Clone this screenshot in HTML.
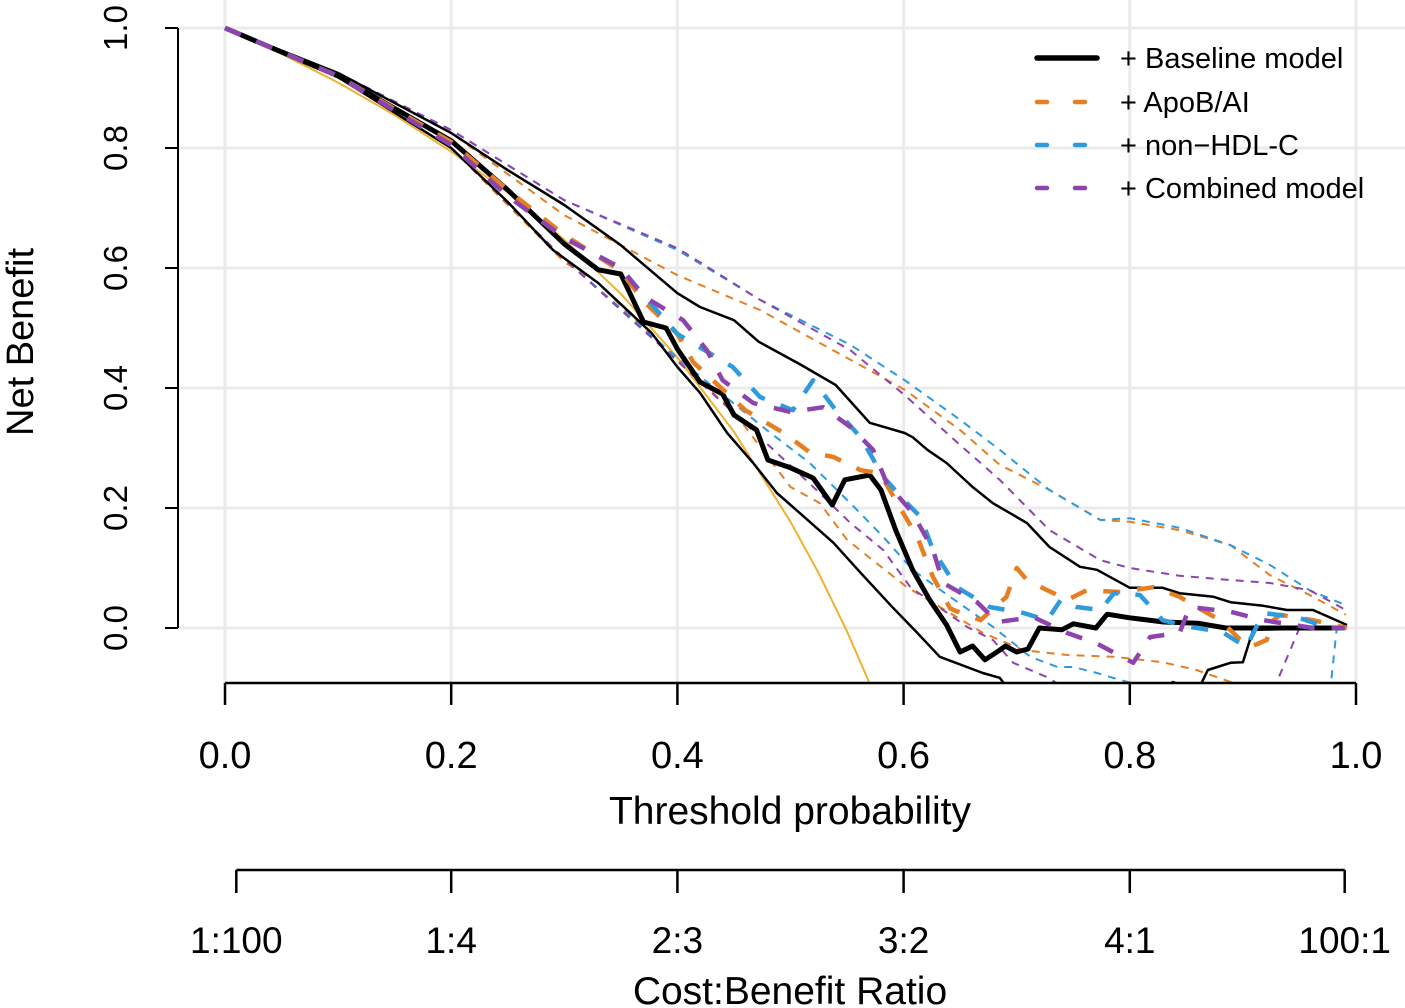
<!DOCTYPE html>
<html><head><meta charset="utf-8"><style>
body{margin:0;background:#fff;}
svg{display:block;font-family:"Liberation Sans",Arial,sans-serif;}
</style></head><body>
<svg id="chart" width="1405" height="1008" viewBox="0 0 1405 1008" xmlns="http://www.w3.org/2000/svg">
<defs><clipPath id="plotclip"><rect x="178" y="0" width="1227" height="683"/></clipPath></defs>
<g id="grid"></g>
<g id="series" clip-path="url(#plotclip)"></g>
<g id="axes"></g>
<g id="legend"></g>
</svg>
<script>
const xTicks=[0,0.2,0.4,0.6,0.8,1.0];
const xTickLabels=["0.0","0.2","0.4","0.6","0.8","1.0"];
const yTicks=[0,0.2,0.4,0.6,0.8,1.0];
const yTickLabels=["0.0","0.2","0.4","0.6","0.8","1.0"];
const cbTicks=[0.01,0.2,0.4,0.6,0.8,0.99];
const cbLabels=["1:100","1:4","2:3","3:2","4:1","100:1"];

const treatAllT=[0,0.05,0.1,0.15,0.2,0.25,0.3,0.35,0.4,0.45,0.5,0.525,0.55,0.575,0.6];
const treatAllV=[1,0.957,0.909,0.855,0.794,0.726,0.647,0.557,0.451,0.327,0.177,0.091,-0.006,-0.114,-0.235];

const baseT=[0,0.1,0.2,0.25,0.3,0.33,0.35,0.37,0.39,0.4,0.42,0.44,0.45,0.47,0.48,0.5,0.52,0.537,0.548,0.57,0.58,0.593,0.608,0.623,0.638,0.65,0.661,0.672,0.685,0.69,0.7,0.71,0.72,0.74,0.75,0.77,0.78,0.8,0.83,0.86,0.885,0.99];
const baseV=[1,0.92,0.812,0.73,0.64,0.597,0.59,0.51,0.5,0.465,0.41,0.39,0.355,0.33,0.28,0.267,0.25,0.205,0.247,0.255,0.23,0.163,0.097,0.047,0.005,-0.04,-0.03,-0.053,-0.037,-0.03,-0.04,-0.035,0,-0.003,0.007,0,0.023,0.017,0.01,0.008,0,0];
const baseUpT=[0,0.1,0.2,0.25,0.3,0.35,0.4,0.42,0.45,0.472,0.508,0.54,0.57,0.601,0.608,0.621,0.638,0.661,0.679,0.709,0.729,0.756,0.771,0.8,0.829,0.844,0.874,0.889,0.918,0.939,0.962,0.992];
const baseUpV=[1,0.925,0.825,0.763,0.705,0.638,0.558,0.535,0.513,0.477,0.44,0.405,0.342,0.325,0.318,0.297,0.275,0.235,0.208,0.175,0.135,0.102,0.097,0.067,0.067,0.058,0.052,0.043,0.037,0.03,0.03,0.005];
const baseLoT=[0,0.1,0.2,0.25,0.29,0.33,0.377,0.4,0.42,0.444,0.467,0.488,0.508,0.538,0.562,0.591,0.612,0.632,0.67,0.685,0.7,0.8,0.838,0.86,0.869,0.889,0.9,0.909,0.99];
const baseLoV=[1,0.918,0.8,0.71,0.63,0.575,0.492,0.435,0.392,0.325,0.275,0.225,0.192,0.142,0.092,0.033,-0.008,-0.048,-0.075,-0.083,-0.12,-0.15,-0.09,-0.105,-0.07,-0.058,-0.057,-0.003,0];

const apoT=[0,0.1,0.2,0.25,0.3,0.35,0.37,0.4,0.414,0.46,0.494,0.517,0.538,0.562,0.579,0.597,0.612,0.626,0.641,0.644,0.668,0.691,0.7,0.709,0.727,0.745,0.762,0.792,0.821,0.844,0.859,0.88,0.898,0.906,0.921,0.927,0.933,0.962,0.992];
const apoV=[1,0.92,0.81,0.73,0.655,0.595,0.545,0.49,0.443,0.363,0.325,0.293,0.285,0.263,0.258,0.2,0.152,0.085,0.033,0.03,0.013,0.052,0.1,0.08,0.063,0.047,0.063,0.06,0.068,0.052,0.035,0.013,-0.02,-0.032,-0.02,0.013,0.022,0.013,0];
const apoUpT=[0,0.1,0.2,0.3,0.4,0.473,0.553,0.601,0.65,0.685,0.729,0.774,0.8,0.844,0.889,0.924,0.959,0.991];
const apoUpV=[1,0.925,0.825,0.688,0.588,0.53,0.447,0.397,0.33,0.272,0.23,0.18,0.177,0.163,0.138,0.088,0.055,0.022];
const apoLoT=[0,0.1,0.2,0.3,0.33,0.39,0.45,0.5,0.526,0.55,0.576,0.603,0.626,0.67,0.706,0.745,0.786,0.829,0.859,0.889,0.92,0.99];
const apoLoV=[1,0.918,0.8,0.61,0.575,0.463,0.36,0.235,0.208,0.147,0.108,0.068,0.042,-0.008,-0.037,-0.045,-0.048,-0.057,-0.07,-0.09,-0.12,-0.15];

const hdlT=[0,0.1,0.2,0.25,0.3,0.35,0.37,0.4,0.449,0.473,0.502,0.52,0.538,0.562,0.582,0.603,0.615,0.626,0.647,0.676,0.706,0.727,0.739,0.753,0.774,0.786,0.809,0.829,0.853,0.882,0.903,0.918,0.948,0.976,0.99];
const hdlV=[1,0.92,0.805,0.72,0.65,0.6,0.555,0.49,0.435,0.385,0.363,0.413,0.368,0.318,0.252,0.208,0.185,0.13,0.068,0.035,0.025,0.013,0.047,0.035,0.03,0.058,0.055,0.013,0.002,-0.007,-0.032,0.025,0.018,0,0];
const hdlUpT=[0,0.1,0.2,0.3,0.4,0.473,0.553,0.601,0.65,0.685,0.729,0.774,0.8,0.844,0.889,0.924,0.959,0.991];
const hdlUpV=[1,0.925,0.83,0.713,0.63,0.547,0.472,0.413,0.347,0.297,0.23,0.18,0.183,0.167,0.138,0.105,0.063,0.038];
const hdlLoT=[0,0.1,0.2,0.3,0.4,0.479,0.517,0.553,0.582,0.608,0.641,0.679,0.712,0.736,0.75,0.771,0.792,0.82,0.97,0.978,0.983,0.99];
const hdlLoV=[1,0.918,0.8,0.615,0.45,0.33,0.275,0.208,0.152,0.097,0.052,0.002,-0.048,-0.065,-0.065,-0.075,-0.087,-0.1,-0.12,-0.09,0,0];

const combT=[0,0.1,0.2,0.25,0.3,0.35,0.37,0.405,0.426,0.44,0.467,0.5,0.529,0.553,0.573,0.585,0.608,0.626,0.635,0.665,0.683,0.715,0.744,0.77,0.803,0.818,0.844,0.853,0.889,0.918,0.962,0.99];
const combV=[1,0.92,0.805,0.72,0.65,0.6,0.553,0.513,0.463,0.413,0.375,0.36,0.368,0.335,0.297,0.242,0.192,0.13,0.075,0.043,0.01,0.018,-0.008,-0.025,-0.058,-0.015,-0.008,0.035,0.027,0.013,0,0];
const combUpT=[0,0.1,0.2,0.3,0.4,0.473,0.553,0.601,0.65,0.685,0.729,0.774,0.8,0.844,0.889,0.924,0.959,0.991];
const combUpV=[1,0.925,0.83,0.713,0.633,0.547,0.463,0.388,0.305,0.247,0.163,0.113,0.1,0.087,0.08,0.075,0.063,0.03];
const combLoT=[0,0.1,0.2,0.3,0.4,0.485,0.523,0.553,0.582,0.606,0.656,0.679,0.697,0.727,0.76,0.925,0.93,0.95,0.99];
const combLoV=[1,0.918,0.8,0.615,0.445,0.297,0.23,0.175,0.13,0.068,0.002,-0.02,-0.058,-0.082,-0.12,-0.13,-0.09,0,0];

const NS="http://www.w3.org/2000/svg";
const X=t=>225+1131*t;
const Y=v=>628-600*v;
function mk(tag,attrs,parent){const e=document.createElementNS(NS,tag);for(const k in attrs)e.setAttribute(k,attrs[k]);parent.appendChild(e);return e;}
const grid=document.getElementById('grid'),series=document.getElementById('series'),axes=document.getElementById('axes'),legend=document.getElementById('legend');

xTicks.forEach(t=>{const l=mk('line',{x1:X(t),x2:X(t),y1:0,y2:683,stroke:'#ebebeb','stroke-width':3},grid);

});
yTicks.forEach(v=>{const l=mk('line',{x1:178,x2:1405,y1:Y(v),y2:Y(v),stroke:'#ebebeb','stroke-width':3},grid);

});

function line(ts,vs,color,w,dash,name){
  const d=ts.map((t,i)=>(i?'L':'M')+X(t).toFixed(1)+' '+Y(vs[i]).toFixed(1)).join(' ');
  const p=mk('path',{d:d,fill:'none',stroke:color,'stroke-width':w,'stroke-linejoin':'round','stroke-linecap':'butt'},series);
  if(dash)p.setAttribute('stroke-dasharray',dash);
  
  
}
const OR='#e67e22',BL='#2e9bdc',PU='#8e44ad';
line(treatAllT,treatAllV,'#f0b030',2,null,'treat-all-line');
line(apoUpT,apoUpV,OR,2,'8 7','apob-upper-ci');
line(apoLoT,apoLoV,OR,2,'8 7','apob-lower-ci');
line(hdlUpT,hdlUpV,BL,2,'8 7','nonhdl-upper-ci');
line(hdlLoT,hdlLoV,BL,2,'8 7','nonhdl-lower-ci');
line(combUpT,combUpV,PU,2,'8 7','combined-upper-ci');
line(combLoT,combLoV,PU,2,'8 7','combined-lower-ci');
line(baseUpT,baseUpV,'#000',2.5,null,'baseline-upper-ci');
line(baseLoT,baseLoV,'#000',2.5,null,'baseline-lower-ci');
line(baseT,baseV,'#000',5,null,'baseline-line');
line(apoT,apoV,OR,4.5,'17 17','apob-line');
line(hdlT,hdlV,BL,4.5,'17 17','nonhdl-line');
line(combT,combV,PU,4.5,'17 17','combined-line');

// y axis
const ya=mk('line',{x1:178,x2:178,y1:Y(1),y2:Y(0),stroke:'#000','stroke-width':2},axes);


yTicks.forEach((v,i)=>{mk('line',{x1:165,x2:178,y1:Y(v),y2:Y(v),stroke:'#000','stroke-width':2},axes);
const tx=mk('text',{x:0,y:0,transform:`translate(127,${Y(v)}) rotate(-90)`,'text-anchor':'middle','font-size':33},axes);tx.textContent=yTickLabels[i];

});
const yt=mk('text',{x:0,y:0,transform:'translate(33,342) rotate(-90)','text-anchor':'middle','font-size':38},axes);yt.textContent='Net Benefit';



// x axis
const xa=mk('line',{x1:X(0),x2:X(1),y1:683,y2:683,stroke:'#000','stroke-width':2.5},axes);


xTicks.forEach((t,i)=>{mk('line',{x1:X(t),x2:X(t),y1:683,y2:705,stroke:'#000','stroke-width':2.5},axes);
const tx=mk('text',{x:X(t),y:768,'text-anchor':'middle','font-size':38},axes);tx.textContent=xTickLabels[i];

});
const xt=mk('text',{x:790,y:824,'text-anchor':'middle','font-size':39},axes);xt.textContent='Threshold probability';



// cost-benefit axis
const ca=mk('line',{x1:X(0.01),x2:X(0.99),y1:870,y2:870,stroke:'#000','stroke-width':2.5},axes);


cbTicks.forEach((t,i)=>{mk('line',{x1:X(t),x2:X(t),y1:870,y2:893,stroke:'#000','stroke-width':2.5},axes);
const tx=mk('text',{x:X(t),y:953,'text-anchor':'middle','font-size':37},axes);tx.textContent=cbLabels[i];

});
const ct=mk('text',{x:790,y:1004,'text-anchor':'middle','font-size':39},axes);ct.textContent='Cost:Benefit Ratio';



// legend
const legNames=['+ Baseline model','+ ApoB/AI','+ non\u2212HDL-C','+ Combined model'];
const legColors=['#000',OR,BL,PU];
const legY=[58,102,145,188];
legNames.forEach((n,i)=>{
 const g=mk('g',{},legend);
 
 
 const l=mk('line',{x1:1037,x2:1097,y1:legY[i],y2:legY[i],stroke:legColors[i],'stroke-width':i?4.5:5.5,'stroke-linecap':'round'},g);
 if(i)l.setAttribute('stroke-dasharray','10 28');
 const tx=mk('text',{x:1120,y:legY[i]+10,'font-size':29},g);tx.textContent=n;
});
</script>
</body></html>
